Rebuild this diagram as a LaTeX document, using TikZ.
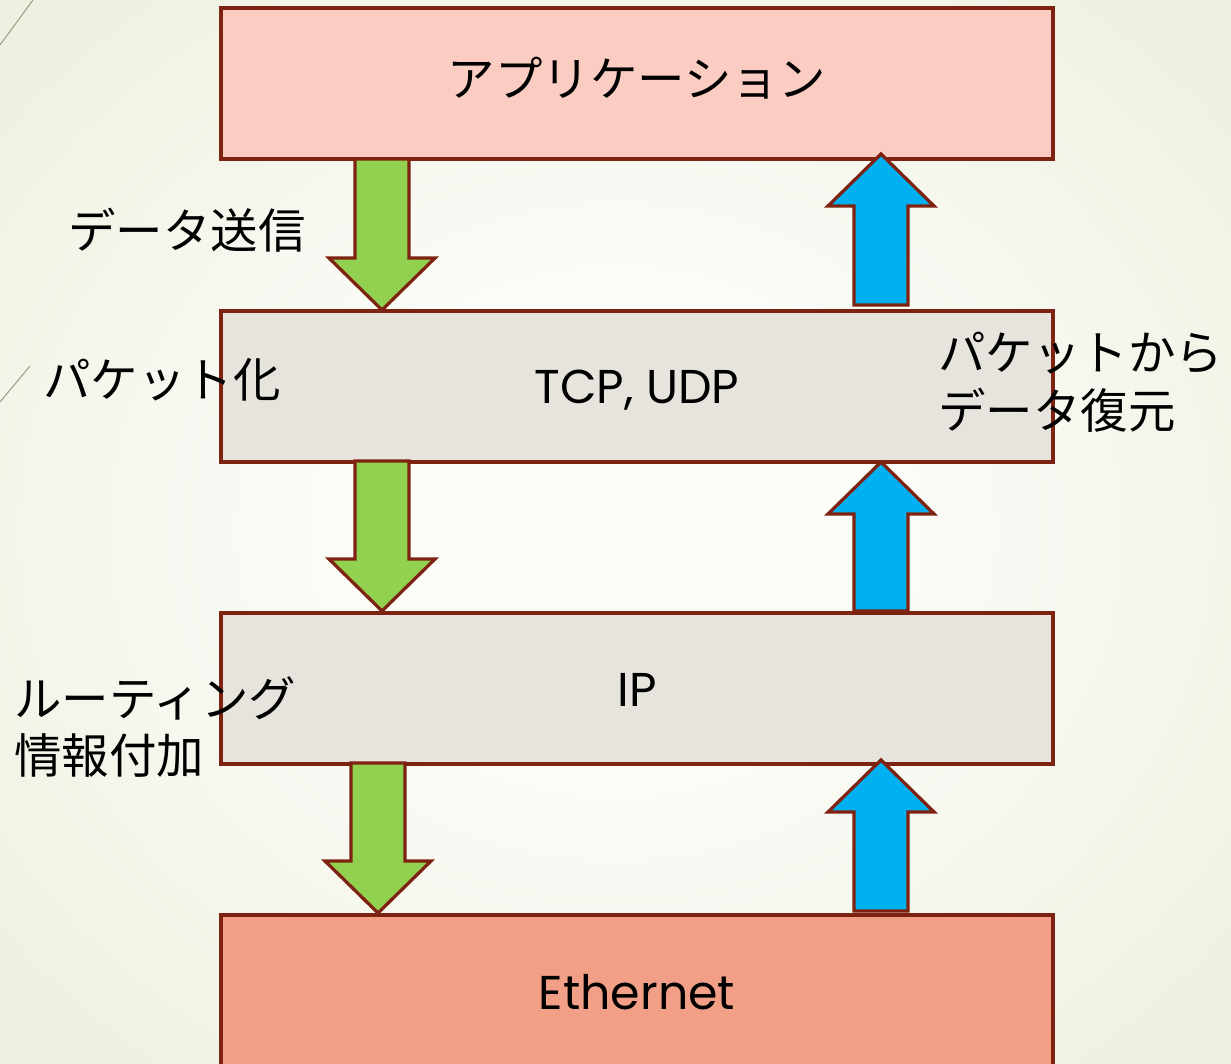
\documentclass[tikz,border=0pt]{standalone}
\usepackage{fontspec}
\setmainfont{Poppins}
\newfontfamily\jp{Noto Sans CJK JP}
\definecolor{bgin}{HTML}{FBFBF7}
\definecolor{bgout}{HTML}{E3EACF}
\definecolor{frame}{HTML}{7E2311}
\definecolor{appfill}{HTML}{FBCDC2}
\definecolor{midfill}{HTML}{E7E4DE}
\definecolor{ethfill}{HTML}{F29F87}
\definecolor{agreen}{HTML}{92D050}
\definecolor{ablue}{HTML}{00B0F0}
\definecolor{deco}{HTML}{9C9A86}
\pgfdeclareradialshading{bgshade}{\pgfpoint{0bp}{0bp}}{color(0bp)=(bgin); color(12bp)=(bgin); color(50bp)=(bgout); color(80bp)=(bgout)}
\newcommand{\garrow}[3]{\draw[arrowline, fill=agreen] (#1-27,#2) -- (#1+27,#2) -- (#1+27,#3-52) -- (#1+53,#3-52) -- (#1,#3) -- (#1-53,#3-52) -- (#1-27,#3-52) -- cycle;}
\newcommand{\barrow}[3]{\draw[arrowline, fill=ablue] (#1-27,#2) -- (#1+27,#2) -- (#1+27,#3+52) -- (#1+53,#3+52) -- (#1,#3) -- (#1-53,#3+52) -- (#1-27,#3+52) -- cycle;}
\begin{document}
\begin{tikzpicture}[x=0.02cm,y=-0.02cm,
  layer/.style={draw=frame, line width=0.07cm, minimum width=832*0.02cm, minimum height=151*0.02cm, inner sep=0pt, outer sep=0pt, anchor=north west},
  arrowline/.style={draw=frame, line width=0.065cm, line join=miter},
  lbl/.style={font=\jp\fontsize{27}{33}\selectfont, inner sep=0pt, anchor=west, align=left},
  ltxt/.style={font=\fontsize{27}{33}\selectfont, inner sep=0pt}]
\useasboundingbox (0,0) rectangle (1231,1063);
\clip (0,0) rectangle (1231,1063);
\shade[shading=bgshade] (0,0) rectangle (1231,1063);
\draw[deco, line width=0.02cm] (0,45) -- (33,0);
\draw[deco, line width=0.02cm] (0,402) -- (30,366);
% layers
\node[layer, fill=appfill] (app) at (221,8) {};
\node[layer, fill=midfill] (tcp) at (221,311) {};
\node[layer, fill=midfill] (ip) at (221,613) {};
\node[layer, fill=ethfill, minimum height=170*0.02cm] (eth) at (221,915) {};
\node[font=\jp\fontsize{27}{33}\selectfont, inner sep=0pt] (tapp) at (637,78) {アプリケーション};
\node[ltxt] (ttcp) at (637,390) {TCP, UDP};
\node[ltxt] (tip) at (637,690) {IP};
\node[ltxt] (teth) at (637,992) {Ethernet};
% arrows
\garrow{382}{159}{310}
\garrow{382}{461}{611}
\garrow{378}{763}{913}
\barrow{881}{305}{154}
\barrow{881}{611}{462}
\barrow{881}{911}{760}
% labels
\node[lbl] (l1) at (68,230) {データ送信};
\node[lbl] (l2) at (43,380) {パケット化};
\node[lbl] (l3) at (938,382) {パケットから\\データ復元};
\node[lbl] (l4) at (14,727) {ルーティング\\情報付加};
\end{tikzpicture}
\end{document}
